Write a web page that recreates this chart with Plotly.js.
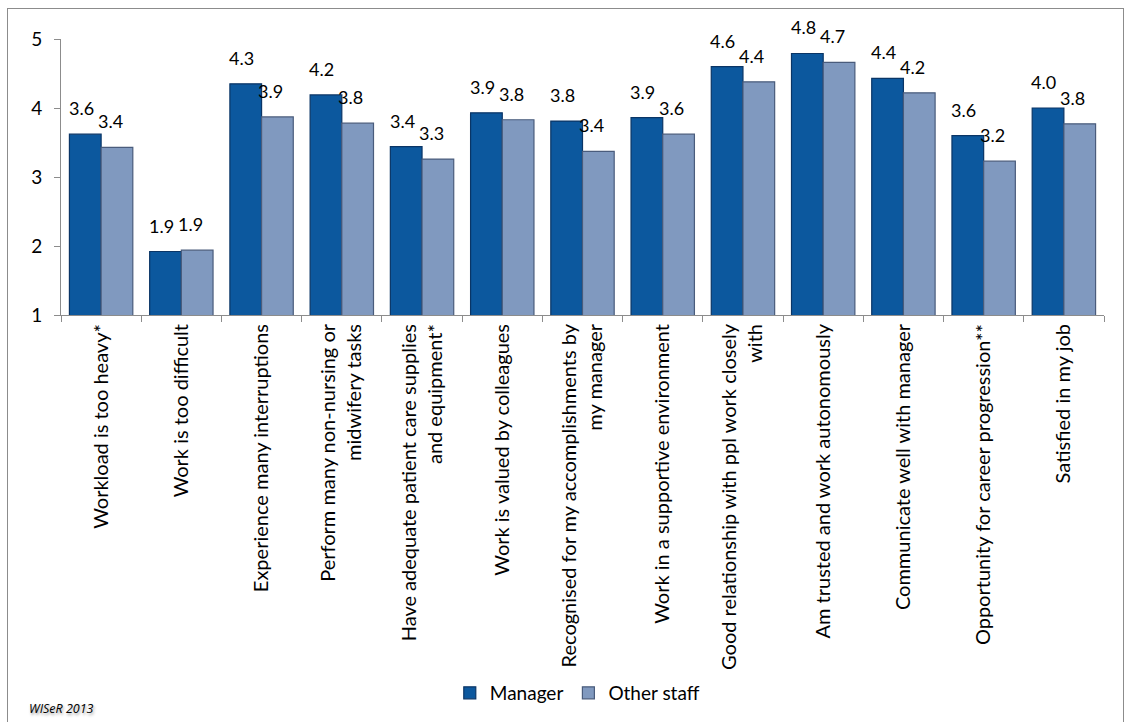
<!DOCTYPE html>
<html><head><meta charset="utf-8">
<script src="https://cdn.plot.ly/plotly-3.0.1.min.js"></script>
<style>
html,body{margin:0;padding:0;background:#fff;overflow:hidden;}
#frame{position:absolute;left:7px;top:8px;width:1115px;height:730px;border:1px solid #8c8c8c;}
#chart{position:absolute;left:0;top:0;width:1130px;height:722px;}
</style></head>
<body>
<div id="frame"></div>
<div id="chart"></div>
<script>
const categories = [
  "Workload is too heavy*",
  "Work is too difficult",
  "Experience many interruptions",
  "Perform many non-nursing or<br>midwifery tasks",
  "Have adequate patient care supplies<br>and equipment*",
  "Work is valued by colleagues",
  "Recognised for my accomplishments by<br>my manager",
  "Work in a supportive environment",
  "Good relationship with ppl work closely<br>with",
  "Am trusted and work autonomously",
  "Communicate well with manager",
  "Opportunity for career progression**",
  "Satisfied in my job"
];
const managerValues = [3.62, 1.92, 4.35, 4.19, 3.44, 3.93, 3.81, 3.86, 4.60, 4.79, 4.43, 3.60, 4.00];
const otherValues   = [3.43, 1.94, 3.87, 3.78, 3.26, 3.83, 3.37, 3.62, 4.38, 4.66, 4.22, 3.23, 3.77];
const seriesNames = ["Manager", "Other staff"];
const yTicks = [1, 2, 3, 4, 5];

const fontFam = "Lato, 'Open Sans', sans-serif";
const traces = [
  {type:'bar', name:seriesNames[0], x:categories, y:managerValues,
   marker:{color:'#0c589e', line:{color:'#0a3566', width:1.2}}, textposition:'none'},
  {type:'bar', name:seriesNames[1], x:categories, y:otherValues,
   marker:{color:'#8099bf', line:{color:'#4a5c7c', width:1.2}}, textposition:'none'}
];
const annotations = [];
function addLabels(vals, xshift){
  vals.forEach((v,i)=>{
    annotations.push({x:categories[i], y:v, xref:'x', yref:'y', text:v.toFixed(1),
      showarrow:false, xanchor:'center', yanchor:'bottom', xshift:xshift, yshift:13,
      font:{family:fontFam, size:18, color:'#000'}});
  });
}
addLabels(managerValues, -20);
addLabels(otherValues, 9);
annotations.push({text:'<i>WISeR 2013</i>', xref:'paper', yref:'paper', x:-0.0326, y:-1.426,
  xanchor:'left', yanchor:'middle', showarrow:false,
  font:{family:"'Open Sans', sans-serif", size:12.5, color:'#000', shadow:'1px 2px 3px #999'}});

const layout = {
  width:1130, height:722,
  margin:{l:61, r:26, t:39, b:406},
  paper_bgcolor:'rgba(0,0,0,0)', plot_bgcolor:'rgba(0,0,0,0)',
  font:{family:fontFam, size:18, color:'#000'},
  barmode:'group', bargap:0.21, bargroupgap:0,
  showlegend:true,
  legend:{orientation:'h', x:0.495, xanchor:'center', y:-1.361, yanchor:'middle',
          font:{family:fontFam, size:19}, traceorder:'normal'},
  xaxis:{type:'category', tickangle:-90, showline:true, linecolor:'#8c8c8c', linewidth:1,
         ticks:'outside', ticklen:6, tickcolor:'#8c8c8c', tickson:'boundaries',
         tickfont:{family:fontFam, size:20}, showgrid:false, zeroline:false, automargin:false},
  yaxis:{range:[1,5], tickvals:yTicks, showline:true, linecolor:'#8c8c8c', linewidth:1,
         ticks:'outside', ticklen:6, tickcolor:'#8c8c8c', showgrid:false, zeroline:false,
         ticklabelstandoff:8,
         tickfont:{family:fontFam, size:19}, automargin:false},
  annotations:annotations
};
Plotly.newPlot('chart', traces, layout, {displayModeBar:false, staticPlot:true});
</script>
</body></html>
